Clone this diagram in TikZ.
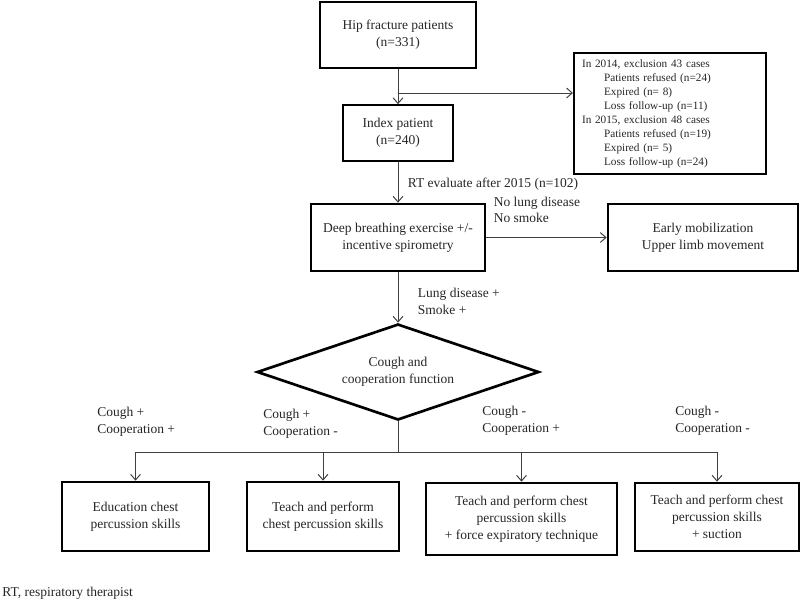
\documentclass[tikz,border=0pt]{standalone}
\usepackage{fontspec}
\setmainfont{Liberation Serif}
\usetikzlibrary{positioning,arrows.meta,shapes.geometric}
\newcommand{\excind}{\hspace*{0.55cm}}

\begin{document}
\begin{tikzpicture}[
  font=\fontsize{9.6}{12}\selectfont,
  text=black!85,
  >={Straight Barb[length=4pt,width=7pt]},
  box/.style={draw, line width=1.9pt, align=center, inner sep=3pt},
  thinbox/.style={box, line width=1.2pt},
  decide/.style={diamond, draw, line width=1.9pt, aspect=2.94, inner sep=0pt,
                 minimum width=7.05cm, minimum height=2.4cm, align=center},
  arr/.style={->, line width=0.7pt, draw=black!75},
  line/.style={line width=0.7pt, draw=black!75},
  lbl/.style={inner sep=1pt, align=left},
]
  \useasboundingbox (0,0) rectangle (20,-15.025);
  % Enrolment
  \node[box, minimum width=3.9cm, minimum height=1.65cm] (hip) at (9.95,-0.875)
    {Hip fracture patients\\(n=331)};
  \node[thinbox, minimum width=2.75cm, minimum height=1.4cm] (index) at (9.95,-3.325)
    {Index patient\\(n=240)};
  \node[box, line width=1.5pt, minimum width=4.8cm, minimum height=3.025cm,
        text width=4.4cm, align=left, font=\fontsize{8}{10}\selectfont] (excl) at (16.75,-2.8375)
    {In 2014, exclusion 43 cases\\
     \excind Patients refused (n=24)\\
     \excind Expired (n= 8)\\
     \excind Loss follow-up (n=11)\\
     In 2015, exclusion 48 cases\\
     \excind Patients refused (n=19)\\
     \excind Expired (n= 5)\\
     \excind Loss follow-up (n=24)};
  % RT evaluation
  \node[box, minimum width=4.35cm, minimum height=1.675cm] (deep) at (9.95,-5.9375)
    {Deep breathing exercise +/-\\incentive spirometry};
  \node[box, minimum width=4.75cm, minimum height=1.675cm] (early) at (17.575,-5.9375)
    {Early mobilization\\Upper limb movement};
  \node[decide] (cough) at (9.95,-9.3) {Cough and\\cooperation function};
  % Interventions
  \node[box, minimum width=3.675cm, minimum height=1.725cm] (edu) at (3.3875,-12.9125)
    {Education chest\\percussion skills};
  \node[box, minimum width=3.8cm, minimum height=1.725cm] (teach) at (8.075,-12.9125)
    {Teach and perform\\chest percussion skills};
  \node[box, minimum width=4.775cm, minimum height=1.8cm] (force) at (13.0375,-12.975)
    {Teach and perform chest\\percussion skills\\+ force expiratory technique};
  \node[box, minimum width=4.1cm, minimum height=1.7cm] (suction) at (17.925,-12.925)
    {Teach and perform chest\\percussion skills\\+ suction};
  % Branch labels
  \node[lbl, anchor=west] (cpp) at (2.39,-10.54) {Cough +\\Cooperation +};
  \node[lbl, anchor=west] (cpm) at (6.54,-10.59) {Cough +\\Cooperation -};
  \node[lbl, anchor=west] (cmp) at (12.015,-10.525) {Cough -\\Cooperation +};
  \node[lbl, anchor=west] (cmm) at (16.84,-10.51) {Cough -\\Cooperation -};
  \node[lbl, anchor=west] (note) at (0.02,-14.825) {RT, respiratory therapist};
  % Arrows
  \draw[arr] (hip) -- (index);
  \coordinate (excl split) at (9.95,-2.325);
  \draw[arr] (excl split) -- (excl split -| excl.west);
  \draw[arr] (index) -- node[lbl, right=0.2cm, pos=0.55] {RT evaluate after 2015 (n=102)} (deep);
  \draw[arr] (deep) -- node[lbl, anchor=west, pos=0, xshift=0.14cm, yshift=0.69cm]
    {No lung disease\\No smoke} (early);
  \draw[arr] (deep) -- node[lbl, right=0.45cm, pos=0.58] {Lung disease +\\Smoke +} (cough);
  \coordinate (fork) at (9.95,-11.3);
  \draw[line] (cough) -- (fork);
  \draw[line] (fork -| edu.north) -- (fork -| suction.north);
  \foreach \n in {edu,teach,force,suction}
    \draw[arr] (fork -| \n.north) -- (\n);
\end{tikzpicture}
\end{document}
